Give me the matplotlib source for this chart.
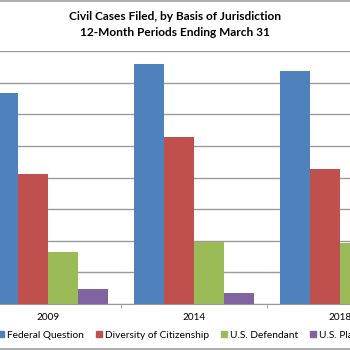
import matplotlib.pyplot as plt
import numpy as np
from matplotlib.lines import Line2D

years = ["2009", "2014", "2018"]
series = ["Federal Question", "Diversity of Citizenship", "U.S. Defendant", "U.S. Plaintiff"]
federal_question = [133700, 151700, 147600]
diversity = [82300, 105500, 85400]
us_defendant = [32900, 39400, 38800]
us_plaintiff = [9500, 6800, 5000]
colors = ["#4F81BD", "#C0504D", "#9BBB59", "#8064A2"]

plt.rcParams["font.family"] = ["Lato", "DejaVu Sans"]

fig = plt.figure(figsize=(3.5, 3.5), dpi=100)
ax = fig.add_axes([0, 46 / 350, 1, 253 / 350])

x = np.arange(len(years))
w = 0.2045
values = [federal_question, diversity, us_defendant, us_plaintiff]
for i, (vals, name, c) in enumerate(zip(values, series, colors)):
    ax.bar(x + (i - 1.5) * w, vals, width=w, color=c, label=name, zorder=3)

ax.set_xlim(-0.331, 2.071)
ax.set_ylim(0, 160000)
ax.set_yticks(np.arange(0, 160001, 20000))
ax.yaxis.grid(True, color="#9a9a9a", linewidth=1, zorder=0)
ax.tick_params(axis="y", left=False, labelleft=False)
for s in ["left", "right", "top"]:
    ax.spines[s].set_visible(False)
ax.spines["bottom"].set_color("#9a9a9a")

ax.set_xticks(x)
ax.set_xticklabels(years, fontsize=7.2)
ax.tick_params(axis="x", length=0, pad=6.5)
ax.set_xticks([0.5, 1.5], minor=True)
ax.tick_params(axis="x", which="minor", length=3, color="#9a9a9a")

fig.text(0.5, 1 - 16 / 350, "Civil Cases Filed, by Basis of Jurisdiction",
         ha="center", va="center", fontsize=8.6, fontweight="bold")
fig.text(0.5, 1 - 33 / 350, "12-Month Periods Ending March 31",
         ha="center", va="center", fontsize=8.6, fontweight="bold")

handles = [Line2D([], [], marker="s", linestyle="", color=c, markersize=4) for c in colors]
fig.legend(handles, series, loc="center left", bbox_to_anchor=(-0.005, 15 / 350),
           ncol=4, frameon=False, fontsize=7.3, handlelength=0.6, handletextpad=0.3,
           columnspacing=1.15, borderpad=0, borderaxespad=0)

for yy in [1 - 1 / 350, 1 / 350]:
    fig.add_artist(Line2D([0, 1], [yy, yy], color="#a0a0a0", linewidth=1.2,
                          transform=fig.transFigure))

fig.savefig("out.png", dpi=100)
